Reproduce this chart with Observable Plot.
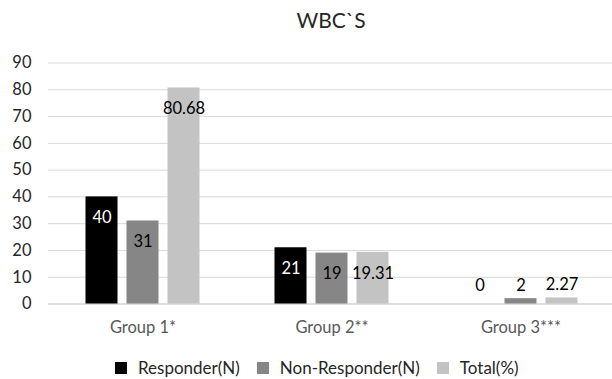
<!DOCTYPE html>
<html>
<head>
<meta charset="utf-8">
<script src="https://cdn.jsdelivr.net/npm/d3@7"></script>
<script src="https://cdn.jsdelivr.net/npm/@observablehq/plot@0.6"></script>
<style>
  html, body { margin: 0; padding: 0; background: #fff; overflow: hidden; }
  #wrap { position: relative; width: 612px; height: 379px; font-family: Lato, "Open Sans", sans-serif; }
  #title { position: absolute; left: 0; width: 662px; top: 7px; text-align: center; font-size: 21px; line-height: 26px; color: #262626; }
  #legend { position: absolute; left: 115px; top: 358px; display: flex; align-items: center; font-size: 17px; line-height: 20px; color: #262626; }
  .item { display: flex; align-items: center; margin-right: 17px; }
  .sw { width: 12px; height: 12px; margin-right: 11px; }
  #chart { position: absolute; left: 0; top: 0; }
</style>
</head>
<body>
<div id="wrap">
  <div id="chart"></div>
  <div id="title"></div>
  <div id="legend"></div>
</div>
<script>
const titleText = "WBC`S";
const groups = ["Group 1*", "Group 2**", "Group 3***"];
const series = ["Responder(N)", "Non-Responder(N)", "Total(%)"];
const responder = [40, 21, 0];
const nonResponder = [31, 19, 2];
const total = [80.68, 19.31, 2.27];
const yTicks = [0, 10, 20, 30, 40, 50, 60, 70, 80, 90];
const colors = ["#000000", "#868686", "#c3c3c3"];

const seriesValues = [responder, nonResponder, total];
const data = groups.flatMap((g, i) =>
  series.map((s, j) => ({ group: g, series: s, value: seriesValues[j][i] }))
);

const big = data.filter(d => d.value >= 10);
const bigWhite = big.filter(d => d.series === series[0]);
const bigDark = big.filter(d => d.series !== series[0]);
const small = data.filter(d => d.value < 10);

const chart = Plot.plot({
  width: 612,
  height: 345,
  marginTop: 62.5,
  marginBottom: 41.5,
  marginLeft: 46.5,
  marginRight: 0,
  style: { fontFamily: "Lato, 'Open Sans', sans-serif", fontSize: "16px", background: "transparent", overflow: "hidden" },
  fx: { domain: groups, range: [46.5, 616], padding: 0 },
  x: { domain: series, paddingInner: 0.214, paddingOuter: 0.865, axis: null },
  y: { domain: [0, 90], range: [303.5, 62.5] },
  color: { domain: series, range: colors },
  marks: [
    Plot.gridY(yTicks, { stroke: "#d9d9d9", strokeOpacity: 1, strokeWidth: 1 }),
    Plot.ruleY([0], { stroke: "#d9d9d9", strokeWidth: 1.5 }),
    Plot.barY(data, { fx: "group", x: "series", y: "value", fill: "series" }),
    Plot.text(bigWhite, { fx: "group", x: "series", y: "value", text: d => String(d.value), dy: 21, fill: "white", fontSize: 16.5 }),
    Plot.text(bigDark, { fx: "group", x: "series", y: "value", text: d => String(d.value), dy: 21, fill: "#000", fontSize: 16.5 }),
    Plot.text(small, { fx: "group", x: "series", y: d => Math.max(d.value, 2), text: d => String(d.value), dy: -13, fill: "#000", fontSize: 16.5 }),
    Plot.axisY(yTicks, { tickSize: 0, tickPadding: 17, label: null, color: "#262626", fontSize: 16.5 }),
    Plot.axisFx({ anchor: "bottom", tickSize: 0, tickPadding: 17, label: null, color: "#595959", fontSize: 16.5 })
  ]
});
document.getElementById("chart").appendChild(chart);
document.getElementById("title").textContent = titleText;

const legend = document.getElementById("legend");
series.forEach((s, i) => {
  const item = document.createElement("div");
  item.className = "item";
  const sw = document.createElement("div");
  sw.className = "sw";
  sw.style.background = colors[i];
  const label = document.createElement("span");
  label.textContent = s;
  item.appendChild(sw);
  item.appendChild(label);
  legend.appendChild(item);
});
</script>
</body>
</html>
